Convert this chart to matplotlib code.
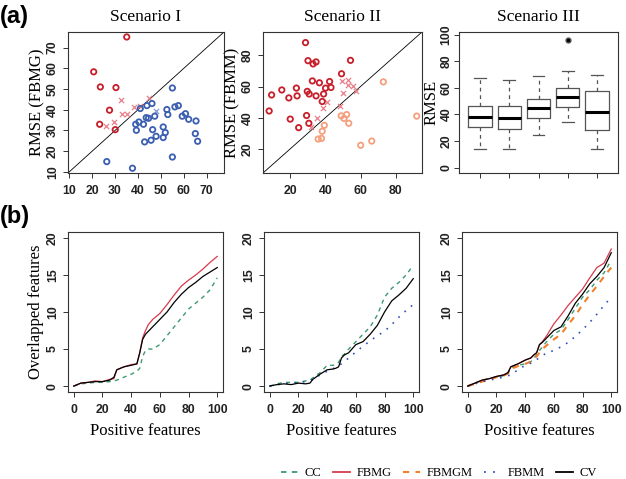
import matplotlib
matplotlib.use("Agg")
import matplotlib.pyplot as plt
from matplotlib.lines import Line2D

# ---- (a) scenario I : RMSE(CV) vs RMSE(FBMG)
s1_red_x = [35.1, 20.7, 23.6, 30.4, 27.6, 23.3, 30.1]
s1_red_y = [75.1, 58.3, 51.0, 50.7, 39.8, 33.0, 30.4]
s1_cross_x = [32.4, 44.6, 25.9, 29.7, 33.1, 35.4, 38.4, 40.7]
s1_cross_y = [44.9, 45.7, 32.0, 34.1, 38.0, 38.1, 41.4, 41.7]
s1_bcross_x = [47.9]
s1_bcross_y = [39.3]
s1_blue_x = [55.0, 46.1, 43.9, 41.0, 52.6, 53.0, 56.1, 57.6, 60.7, 59.3, 62.1, 65.3,
             39.0, 40.4, 42.4, 43.6, 44.6, 47.3, 39.3, 46.4, 42.9, 45.7, 47.9, 51.0,
             51.9, 51.0, 65.0, 66.0, 55.0, 26.4, 37.6]
s1_blue_y = [50.5, 43.0, 42.0, 40.6, 40.1, 37.7, 41.4, 42.0, 38.1, 36.9, 35.4, 34.6,
             33.0, 34.1, 33.0, 36.2, 35.9, 36.9, 30.1, 30.4, 24.5, 25.3, 27.2, 31.7,
             29.0, 26.6, 28.5, 24.8, 17.2, 15.0, 11.8]

# ---- (a) scenario II : RMSE(CV) vs RMSE(FBMM)
s2_red_x = [28.7, 30.1, 33.0, 34.7, 54.3, 49.2, 32.6, 36.6, 42.4, 40.1, 43.2, 23.5,
            15.2, 9.4, 19.2, 23.9, 29.7, 30.8, 34.7, 39.0, 38.2, 8.0, 29.3, 20.0,
            30.6, 24.8]
s2_red_y = [88.2, 76.6, 74.5, 75.8, 76.8, 68.2, 63.6, 62.4, 63.2, 59.0, 59.4, 59.0,
            57.8, 54.6, 52.7, 54.0, 56.9, 55.2, 54.0, 55.2, 50.4, 44.3, 41.4, 39.1,
            36.4, 33.6]
s2_cross_x = [49.6, 52.9, 52.9, 55.8, 57.2, 49.8, 40.9, 38.4, 48.1, 35.5, 31.6]
s2_cross_y = [63.6, 64.5, 61.1, 60.3, 56.9, 56.1, 49.8, 46.0, 47.3, 39.9, 34.3]
s2_orange_x = [49.0, 52.1, 50.6, 53.3, 39.4, 38.2, 35.9, 37.8, 60.1, 66.4, 73.0, 92.0]
s2_orange_y = [41.2, 42.0, 39.5, 36.4, 35.1, 31.3, 26.3, 26.7, 22.3, 25.0, 63.0, 41.0]

# ---- (a) scenario III : boxplots of RMSE
box_lo = [14.0, 14.0, 24.6, 34.4, 14.0]
box_q1 = [30.3, 29.0, 37.2, 45.5, 28.1]
box_med = [38.1, 37.5, 44.8, 53.0, 41.7]
box_q3 = [46.6, 46.6, 51.6, 59.8, 57.3]
box_hi = [67.4, 66.0, 68.8, 72.9, 69.6]
box_out = [[], [], [], [96.0], []]

# ---- (b) overlapped features vs positive features
pos = [0, 5, 10, 15, 20, 25, 28, 30, 35, 40, 44, 46, 48, 50, 52, 55,
       60, 65, 70, 75, 80, 85, 90, 95, 100]

b1_fbmg = [0, 0.4, 0.5, 0.7, 0.6, 0.9, 1.0, 2.2, 2.6, 2.9, 3.0, 4.5, 6.5, 7.5, 8.3, 9.0,
           9.8, 11.0, 12.3, 13.5, 14.3, 15.0, 15.8, 16.7, 17.5]
b1_cv = [0, 0.4, 0.5, 0.6, 0.6, 0.8, 1.2, 2.2, 2.6, 2.8, 3.0, 4.5, 6.3, 7.0, 7.4, 8.0,
         9.0, 10.0, 11.3, 12.4, 13.3, 14.0, 14.8, 15.4, 16.0]
b1_cc = [0, 0.3, 0.4, 0.5, 0.5, 0.6, 0.7, 0.8, 1.2, 1.6, 2.0, 2.4, 4.0, 4.8, 5.0, 5.0,
         5.6, 6.8, 8.0, 9.2, 10.4, 11.2, 12.0, 13.0, 14.6]

b2_cv = [0, 0.2, 0.3, 0.2, 0.4, 0.3, 0.4, 0.9, 1.6, 2.2, 2.3, 2.4, 2.6, 3.8, 4.2, 4.5,
         5.6, 6.0, 7.0, 8.2, 10.0, 11.5, 12.3, 13.2, 14.5]
b2_cc = [0, 0.3, 0.5, 0.5, 0.5, 0.7, 0.8, 1.1, 1.8, 2.8, 2.8, 2.9, 3.2, 4.0, 4.3, 5.0,
         6.0, 7.0, 8.0, 9.6, 12.0, 13.2, 14.0, 15.0, 16.3]
b2_fbmm = [0, 0.2, 0.3, 0.4, 0.5, 0.6, 0.8, 0.9, 1.5, 2.0, 2.3, 2.6, 2.8, 3.0, 3.3, 3.8,
           4.6, 5.4, 6.1, 6.8, 7.4, 8.3, 9.3, 10.2, 11.0]

b3_fbmg = [0, 0.4, 0.8, 1.0, 1.3, 1.5, 1.8, 2.6, 3.0, 3.5, 3.8, 4.2, 4.5, 5.6, 6.0, 6.8,
           8.4, 9.6, 10.9, 12.0, 13.1, 14.6, 16.0, 16.6, 18.5]
b3_cv = [0, 0.4, 0.8, 1.0, 1.3, 1.5, 1.8, 2.6, 3.0, 3.5, 3.8, 4.2, 4.5, 5.6, 5.9, 6.5,
         7.5, 8.0, 9.5, 11.2, 12.4, 13.8, 14.8, 16.0, 18.0]
b3_cc = [0, 0.4, 0.8, 1.0, 1.2, 1.4, 1.7, 2.4, 2.8, 3.0, 3.3, 3.8, 4.2, 4.8, 5.3, 6.0,
         7.0, 7.6, 9.0, 10.5, 12.0, 13.0, 14.3, 15.3, 17.0]
b3_fbmgm = [0, 0.3, 0.6, 0.9, 1.2, 1.4, 1.7, 2.3, 2.7, 3.0, 3.3, 3.7, 4.0, 4.5, 5.0, 5.5,
            6.3, 7.0, 8.3, 9.5, 11.0, 12.3, 13.5, 14.8, 16.0]
b3_fbmm = [0, 0.3, 0.6, 0.8, 1.0, 1.2, 1.4, 1.5, 2.2, 2.8, 3.1, 3.3, 3.6, 3.8, 4.1, 4.5,
           4.8, 5.3, 5.9, 6.7, 7.6, 8.6, 9.7, 10.9, 12.0]

C_CC = "#3d9970"
C_FBMG = "#d83a4e"
C_FBMGM = "#f0802a"
C_FBMM = "#3050c0"
C_CV = "black"

SERIF = "Liberation Serif"
SANS = "Liberation Sans"

plt.rcParams["font.family"] = SANS
plt.rcParams["axes.linewidth"] = 0.8
plt.rcParams["axes.edgecolor"] = "#333333"

W, H = 626, 479
fig = plt.figure(figsize=(W / 100, H / 100), dpi=100)


def box(l, r, t, b):
    return [l / W, 1 - b / H, (r - l) / W, (b - t) / H]


def style(ax, ypad=3):
    ax.tick_params(length=3.5, width=0.7, labelsize=8.8, color="#333333")
    ax.tick_params(axis="x", pad=5)
    ax.tick_params(axis="y", pad=ypad, labelrotation=90)
    for lab in ax.get_xticklabels() + ax.get_yticklabels():
        lab.set_fontweight("bold")
        lab.set_color("#222222")
    for lab in ax.get_yticklabels():
        lab.set_va("center")


def scatter_panel(ax, lim):
    ax.plot(lim, lim, color="black", lw=0.6, zorder=1)
    ax.set_xlim(lim)
    ax.set_ylim(lim)


# (a) Scenario I
ax1 = fig.add_axes(box(68, 224, 32, 173))
scatter_panel(ax1, (9.5, 77.5))
ax1.scatter(s1_cross_x, s1_cross_y, marker="x", s=14, color="#e8808a", lw=0.9)
ax1.scatter(s1_bcross_x, s1_bcross_y, marker="x", s=14, color="#7a9ad8", lw=0.9)
ax1.scatter(s1_red_x, s1_red_y, s=15, facecolors="none", edgecolors="#c81e2a", lw=1.3)
ax1.scatter(s1_blue_x, s1_blue_y, s=15, facecolors="none", edgecolors="#3a5fb0", lw=1.3)
ax1.set_xticks([10, 20, 30, 40, 50, 60, 70])
ax1.set_yticks([10, 20, 30, 40, 50, 60, 70])
ax1.set_title("Scenario I", family=SERIF, fontsize=12.5, pad=8)
ax1.set_ylabel("RMSE (FBMG)", family=SERIF, fontsize=12, labelpad=1)
style(ax1)

# (a) Scenario II
ax2 = fig.add_axes(box(263, 422, 32, 173))
scatter_panel(ax2, (4.5, 95))
ax2.scatter(s2_cross_x, s2_cross_y, marker="x", s=14, color="#e8808a", lw=0.9)
ax2.scatter(s2_orange_x, s2_orange_y, s=15, facecolors="none", edgecolors="#f4a07e", lw=1.3)
ax2.scatter(s2_red_x, s2_red_y, s=15, facecolors="none", edgecolors="#c81e2a", lw=1.3)
ax2.set_xticks([20, 40, 60, 80])
ax2.set_yticks([20, 40, 60, 80])
ax2.set_title("Scenario II", family=SERIF, fontsize=12.5, pad=8)
ax2.set_ylabel("RMSE (FBMM)", family=SERIF, fontsize=12, labelpad=1)
style(ax2)

# (a) Scenario III
ax3 = fig.add_axes(box(459, 618, 32, 173))
stats = []
for i in range(5):
    stats.append(dict(med=box_med[i], q1=box_q1[i], q3=box_q3[i],
                      whislo=box_lo[i], whishi=box_hi[i], fliers=box_out[i]))
ax3.bxp(stats, positions=[1, 2, 3, 4, 5], widths=0.8, showfliers=True,
        boxprops=dict(color="#555555", lw=0.9),
        whiskerprops=dict(color="#555555", lw=0.9, ls=(0, (3, 3))),
        capprops=dict(color="#555555", lw=0.9),
        medianprops=dict(color="black", lw=2.2),
        flierprops=dict(marker="o", markersize=3.5, markerfacecolor="black",
                        markeredgecolor="#555555"))
ax3.set_xlim(0.28, 5.72)
ax3.set_ylim(-4, 102)
ax3.set_xticks([1, 2, 3, 4, 5])
ax3.set_xticklabels([])
ax3.set_yticks([0, 20, 40, 60, 80, 100])
ax3.set_title("Scenario III", family=SERIF, fontsize=12.5, pad=8)
ax3.set_ylabel("RMSE", family=SERIF, fontsize=12, labelpad=1)
style(ax3, ypad=1)

# (b) curves
b_boxes = [box(68, 223, 232, 392), box(264, 419, 232, 392), box(462, 617, 232, 392)]
curves = [
    [(b1_cc, C_CC, (0, (3, 3)), 1.0), (b1_fbmg, C_FBMG, "-", 0.9), (b1_cv, C_CV, "-", 0.9)],
    [(b2_cc, C_CC, (0, (3, 3)), 1.0), (b2_fbmm, C_FBMM, (0, (1, 4)), 1.2), (b2_cv, C_CV, "-", 0.9)],
    [(b3_cc, C_CC, (0, (3, 3)), 1.0), (b3_fbmgm, C_FBMGM, (0, (3, 3)), 1.5),
     (b3_fbmm, C_FBMM, (0, (1, 4)), 1.2), (b3_fbmg, C_FBMG, "-", 0.9), (b3_cv, C_CV, "-", 0.9)],
]
for k in range(3):
    ax = fig.add_axes(b_boxes[k])
    for ys, col, ls, lw in curves[k]:
        ax.plot(pos, ys, color=col, ls=ls, lw=lw)
    ax.set_xlim(-4, 104)
    ax.set_ylim(-0.8, 20.8)
    ax.set_xticks([0, 20, 40, 60, 80, 100])
    ax.set_yticks([0, 5, 10, 15, 20])
    ax.set_xlabel("Positive features", family=SERIF, fontsize=12, labelpad=5)
    if k == 0:
        ax.set_ylabel("Overlapped features", family=SERIF, fontsize=12, labelpad=2)
    style(ax)

fig.text(0.0, 1 - 17 / H, "(a)", fontsize=17, fontweight="bold", va="center", ha="left")
fig.text(0.0, 1 - 217 / H, "(b)", fontsize=17, fontweight="bold", va="center", ha="left")

handles = [
    Line2D([], [], color=C_CC, ls=(0, (3, 3)), lw=1.3),
    Line2D([], [], color=C_FBMG, ls="-", lw=1.3),
    Line2D([], [], color=C_FBMGM, ls=(0, (3, 3)), lw=1.5),
    Line2D([], [], color=C_FBMM, ls=(0, (1, 4)), lw=1.3),
    Line2D([], [], color=C_CV, ls="-", lw=1.3),
]
labels = ["CC", "FBMG", "FBMGM", "FBMM", "CV"]
fig.legend(handles, labels, loc="center right", bbox_to_anchor=(608 / W, 1 - 473 / H),
           ncol=5, frameon=False, handlelength=1.4, handletextpad=0.5,
           columnspacing=0.9, prop=dict(family=SERIF, size=9))

fig.savefig("out.png", dpi=100)
